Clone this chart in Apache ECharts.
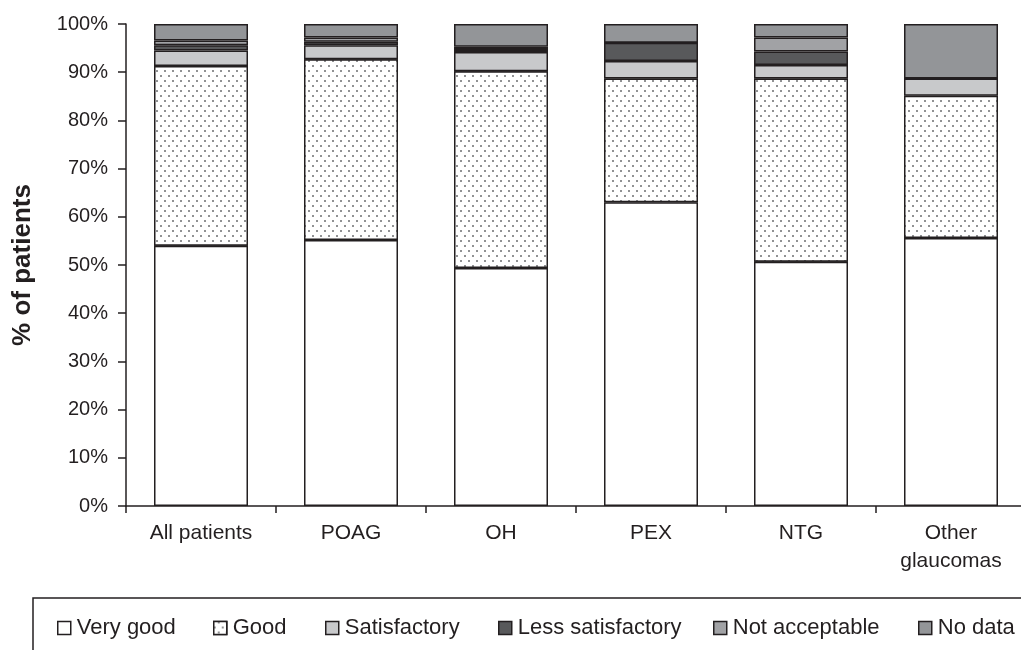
<!DOCTYPE html>
<html>
<head>
<meta charset="utf-8">
<script src="https://cdn.jsdelivr.net/npm/echarts@6/dist/echarts.min.js"></script>
<style>
html,body{margin:0;padding:0;background:#fff;}
#chart{width:1021px;height:650px;}
</style>
</head>
<body>
<div id="chart"></div>
<script>
const categories = ['All patients', 'POAG', 'OH', 'PEX', 'NTG', 'Other\nglaucomas'];
const yTickLabels = ['0%','10%','20%','30%','40%','50%','60%','70%','80%','90%','100%'];
const seriesNames = ['Very good', 'Good', 'Satisfactory', 'Less satisfactory', 'Not acceptable', 'No data'];
const veryGood = [54.0, 55.2, 49.4, 63.0, 50.7, 55.6];
const good = [37.3, 37.5, 40.8, 25.7, 38.0, 29.5];
const satisfactory = [3.2, 2.9, 4.0, 3.6, 2.8, 3.6];
const lessSatisfactory = [1.1, 0.7, 0.6, 3.8, 2.8, 0];
const notAcceptable = [1.0, 0.9, 0.5, 0, 2.9, 0];
const noData = [3.4, 2.8, 4.7, 3.9, 2.8, 11.3];

const values = [veryGood, good, satisfactory, lessSatisfactory, notAcceptable, noData];
const colors = ['#ffffff', '#ffffff', '#c8c9cb', '#58595b', '#a1a2a5', '#939598'];
const ink = '#231f20';
const legendLeft = [57, 213, 325, 498, 713, 918];

const dotDecal = {
  symbol: 'circle',
  symbolSize: 1,
  color: '#6d6e71',
  backgroundColor: '#ffffff',
  dashArrayX: [[2, 5.6], [0, 3.8, 2, 1.8]],
  dashArrayY: [2, 2.4],
  rotation: 0
};

const chart = echarts.init(document.getElementById('chart'));
const option = {
  animation: false,
  backgroundColor: '#ffffff',
  textStyle: { fontFamily: 'Liberation Sans, Arial, sans-serif', color: ink },
  grid: { left: 126, top: 24, width: 900, height: 482, containLabel: false, outerBoundsMode: 'none' },
  xAxis: {
    type: 'category',
    data: categories,
    axisLine: { lineStyle: { color: ink, width: 1.5 } },
    axisTick: { show: true, length: 7, lineStyle: { color: ink, width: 1.5 } },
    axisLabel: { fontSize: 21, color: ink, margin: 13, lineHeight: 28, interval: 0 },
    splitLine: { show: false }
  },
  yAxis: {
    type: 'value',
    min: 0, max: 100, interval: 10,
    name: '% of patients',
    nameLocation: 'middle',
    nameGap: 90,
    nameTextStyle: { fontSize: 26, fontWeight: 'bold', color: ink },
    axisLine: { show: true, lineStyle: { color: ink, width: 1.5 } },
    axisTick: { show: true, length: 8, lineStyle: { color: ink, width: 1.5 } },
    axisLabel: { fontSize: 20, color: ink, margin: 18, formatter: (v) => yTickLabels[Math.round(v / 10)] },
    splitLine: { show: false }
  },
  legend: seriesNames.map((n, i) => ({
    data: [n],
    left: legendLeft[i],
    top: 617,
    padding: 0,
    itemWidth: 13,
    itemHeight: 13,
    icon: 'rect',
    itemStyle: { borderColor: ink, borderWidth: 1.5 },
    textStyle: { fontSize: 22, color: ink, padding: [0, 0, 0, 1] }
  })),
  graphic: [{
    type: 'rect',
    shape: { x: 33, y: 598, width: 1100, height: 100 },
    style: { fill: 'none', stroke: ink, lineWidth: 1.5 },
    silent: true
  }],
  series: seriesNames.map((n, i) => ({
    name: n,
    type: 'bar',
    stack: 'total',
    barWidth: 94,
    data: values[i],
    itemStyle: Object.assign({ color: colors[i], borderColor: ink, borderWidth: 1.5 }, i === 1 ? { decal: dotDecal } : {}),
    emphasis: { disabled: true }
  }))
};
chart.setOption(option);
</script>
</body>
</html>
